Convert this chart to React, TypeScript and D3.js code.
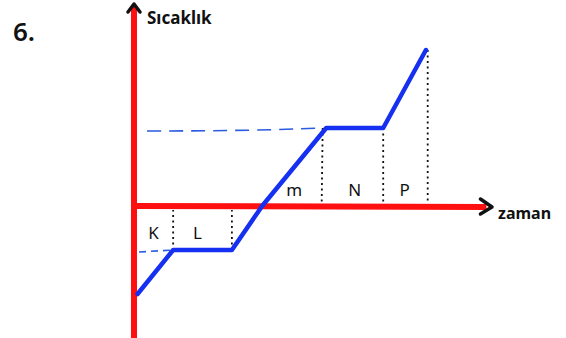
import { scaleLinear, line } from 'd3'

const width = 566
const height = 338

// heating curve points (time, temperature)
const times = [1, 11, 27.5, 36, 54, 70, 82]
const temps = [-44, -22, -22, 0, 39, 39, 78]

// phase labels and their time boundaries
const phases = ['K', 'L', 'm', 'N', 'P']
const phaseStart = [0, 11, 36, 54, 70]
const phaseEnd = [11, 27.5, 54, 70, 82]
const phaseAbove = [false, false, true, true, true]

// vertical dotted guides: [time, temperature]
const guideTimes = [11, 27.5, 53, 70, 82.5]
const guideTemps = [-22, -22, 39, 39, 78]

const x = scaleLinear().domain([0, 100]).range([134, 490])
const y = scaleLinear().domain([-66, 100]).range([338, 6])

const pathLine = line<number>()
  .x((d, i) => x(times[i]))
  .y((d) => y(d))

const App = () => {
  const x0 = x(0)
  const y0 = y(0)
  return (
    <svg
      width={width}
      height={height}
      style={{ position: 'absolute', left: 0, top: 0, background: '#fff' }}
      fontFamily="'Noto Sans', sans-serif"
    >
      <text x={13} y={41} fontSize={26} fontWeight="600" fill="#111">6.</text>

      {/* dashed level lines */}
      <line x1={x0 + 5} x2={x(11)} y1={y(-23)} y2={y(-22)} stroke="#2a5be0" strokeWidth={1.6} strokeDasharray="7,5" />
      <path
        d={`M${x0 + 13},${y(37.5)} Q${x(35)},${y(37.5)} ${x(52)},${y(39)}`}
        fill="none"
        stroke="#2a5be0"
        strokeWidth={1.6}
        strokeDasharray="14,8"
      />

      {/* dotted verticals */}
      {guideTimes.map((t, i) => (
        <line
          key={i}
          x1={x(t)}
          x2={x(t) - (i === 2 ? 1 : 0)}
          y1={y(guideTemps[i])}
          y2={y(0) + (guideTemps[i] < 0 ? 4 : -3)}
          stroke="#111"
          strokeWidth={1.8}
          strokeDasharray="2,3.5"
        />
      ))}

      {/* axes */}
      <line x1={x0} x2={x0} y1={7} y2={height} stroke="#ff1010" strokeWidth={6} />
      <line x1={x0} x2={x(99)} y1={y0} y2={y0 + 1} stroke="#ff1010" strokeWidth={6} />
      <polyline points={`${x0 - 6},12 ${x0},4 ${x0 + 6},12`} fill="none" stroke="#111" strokeWidth={3.5} strokeLinecap="round" strokeLinejoin="round" />
      <polyline points={`${x(99) - 6},${y0 - 7} ${x(100) + 2},${y0 + 1} ${x(99) - 6},${y0 + 8}`} fill="none" stroke="#111" strokeWidth={3.5} strokeLinecap="round" strokeLinejoin="round" />

      <text x={147} y={24} fontSize={17} fontWeight="bold" fill="#111">Sıcaklık</text>
      <text x={498} y={219} fontSize={16} fontWeight="bold" fill="#111">zaman</text>

      {/* curve */}
      <path d={pathLine(temps) ?? ''} fill="none" stroke="#1530f0" strokeWidth={4.5} strokeLinejoin="round" strokeLinecap="round" />

      {/* phase labels */}
      {phases.map((p, i) => (
        <text
          key={p}
          x={(x(phaseStart[i]) + x(phaseEnd[i])) / 2 + (i === 1 ? -5 : 0)}
          y={phaseAbove[i] ? y0 - 10 : y0 + 33}
          textAnchor="middle"
          fontSize={17}
          fill="#111"
        >
          {p}
        </text>
      ))}
    </svg>
  )
}

export default App
